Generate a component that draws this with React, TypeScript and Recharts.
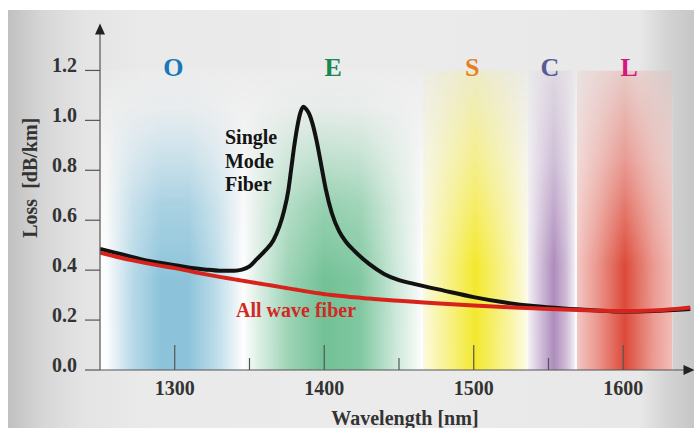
import React from 'react';
import {
  ComposedChart,
  Line,
  XAxis,
  YAxis,
  ReferenceArea,
  ReferenceLine,
  ReferenceDot,
} from 'recharts';

// Sample wavelengths (nm) shared by both attenuation curves
const wavelengths = [
  1250, 1260, 1270, 1280, 1290, 1300, 1310, 1320, 1330, 1340, 1345, 1350, 1355,
  1360, 1366, 1370, 1373, 1376, 1378, 1380, 1382, 1384, 1386, 1388, 1390, 1392,
  1395, 1398, 1401, 1405, 1410, 1415, 1420, 1430, 1440, 1450, 1460, 1480, 1500,
  1520, 1540, 1560, 1580, 1600, 1620, 1645,
];

// Standard single-mode fibre with the water (OH) absorption peak near 1385 nm
const singleModeLoss = [
  0.485, 0.47, 0.455, 0.44, 0.43, 0.42, 0.41, 0.403, 0.398, 0.398, 0.402, 0.415,
  0.445, 0.475, 0.52, 0.575, 0.635, 0.72, 0.81, 0.9, 0.975, 1.03, 1.055, 1.045,
  1.025, 0.99, 0.915, 0.82, 0.725, 0.63, 0.555, 0.51, 0.478, 0.425, 0.385, 0.36,
  0.345, 0.318, 0.292, 0.271, 0.256, 0.246, 0.239, 0.234, 0.236, 0.244,
];

// Low-water-peak ("all wave") fibre
const allWaveLoss = [
  0.47, 0.455, 0.441, 0.429, 0.418, 0.408, 0.396, 0.384, 0.373, 0.363, 0.358,
  0.353, 0.348, 0.343, 0.337, 0.333, 0.33, 0.327, 0.325, 0.323, 0.321, 0.319,
  0.317, 0.315, 0.313, 0.311, 0.308, 0.306, 0.303, 0.3, 0.297, 0.294, 0.291,
  0.286, 0.281, 0.277, 0.273, 0.265, 0.258, 0.252, 0.247, 0.242, 0.238, 0.236,
  0.238, 0.25,
];

// Transmission bands (nm)
const bandNames = ['O', 'E', 'S', 'C', 'L'];
const bandStartNm = [1254, 1346, 1466, 1536, 1569];
const bandEndNm = [1346, 1466, 1536, 1568, 1633];
const bandLabelNm = [1299, 1406, 1499, 1551, 1604];

// Axis ticks
const xMajorTicks = [1300, 1400, 1500, 1600];
const xMinorTicks = [1350, 1450, 1550];
const yTicks = [0, 0.2, 0.4, 0.6, 0.8, 1.0, 1.2];

const data = wavelengths.map((wl, i) => ({
  wl,
  smf: singleModeLoss[i],
  awf: allWaveLoss[i],
}));

const SERIF = '"Liberation Serif", "Times New Roman", Times, serif';
const AXIS = '#555555';

type BandStyle = { fill: string; label: string; stops: [number, number][]; mask: string };

const bandStyles: Record<string, BandStyle> = {
  O: {
    fill: '#86c0d8',
    label: '#1a78b8',
    mask: 'fadeSoft',
    stops: [[0, 0], [0.2, 0.6], [0.4, 0.95], [0.6, 0.95], [0.8, 0.55], [1, 0]],
  },
  E: {
    fill: '#72c196',
    label: '#168a4e',
    mask: 'fadeSoft',
    stops: [[0, 0], [0.25, 0.7], [0.45, 1], [0.65, 0.9], [0.85, 0.35], [1, 0]],
  },
  S: {
    fill: '#f3e82e',
    label: '#e67e26',
    mask: 'fadeBox',
    stops: [[0, 0.15], [0.15, 0.4], [0.5, 1], [0.85, 0.4], [1, 0.1]],
  },
  C: {
    fill: '#ad8cbb',
    label: '#5a5a98',
    mask: 'fadeBox',
    stops: [[0, 0.1], [0.3, 0.6], [0.55, 1], [0.8, 0.6], [1, 0.1]],
  },
  L: {
    fill: '#dc4a3a',
    label: '#d6187a',
    mask: 'fadeBox',
    stops: [[0, 0.3], [0.2, 0.55], [0.5, 1], [0.8, 0.55], [1, 0.35]],
  },
};

const Defs = () => (
  <svg width={0} height={0} style={{ position: 'absolute' }}>
    <defs>
      <linearGradient id="fadeSoftGrad" x1="0" y1="0" x2="0" y2="1">
        <stop offset="0" stopColor="#000" />
        <stop offset="0.12" stopColor="#111" />
        <stop offset="0.45" stopColor="#bbb" />
        <stop offset="0.7" stopColor="#fff" />
        <stop offset="1" stopColor="#fff" />
      </linearGradient>
      <linearGradient id="fadeBoxGrad" x1="0" y1="0" x2="0" y2="1">
        <stop offset="0" stopColor="#333" />
        <stop offset="0.3" stopColor="#888" />
        <stop offset="0.65" stopColor="#fff" />
        <stop offset="1" stopColor="#fff" />
      </linearGradient>
      <mask id="fadeSoft" maskContentUnits="objectBoundingBox">
        <rect x={0} y={0} width={1} height={1} fill="url(#fadeSoftGrad)" />
      </mask>
      <mask id="fadeBox" maskContentUnits="objectBoundingBox">
        <rect x={0} y={0} width={1} height={1} fill="url(#fadeBoxGrad)" />
      </mask>
      <linearGradient id="plotWhite" x1="0" y1="0" x2="0" y2="1">
        <stop offset="0" stopColor="#ffffff" stopOpacity={0.1} />
        <stop offset="0.3" stopColor="#ffffff" stopOpacity={0.6} />
        <stop offset="0.6" stopColor="#ffffff" stopOpacity={0.88} />
        <stop offset="1" stopColor="#ffffff" stopOpacity={0.97} />
      </linearGradient>
      {bandNames.map((n) => (
        <linearGradient key={n} id={`band-${n}`} x1="0" y1="0" x2="1" y2="0">
          {bandStyles[n].stops.map(([o, a], i) => (
            <stop key={i} offset={o} stopColor={bandStyles[n].fill} stopOpacity={a} />
          ))}
        </linearGradient>
      ))}
    </defs>
  </svg>
);

const YTick = (props: any) => {
  const { x, y, payload } = props;
  return (
    <text
      x={x}
      y={y - 5}
      textAnchor="end"
      dominantBaseline="central"
      fontFamily={SERIF}
      fontWeight="bold"
      fontSize={20}
      fill="#333"
    >
      {Number(payload.value).toFixed(1)}
    </text>
  );
};

const XTick = (props: any) => {
  const { x, payload } = props;
  return (
    <text
      x={x}
      y={388}
      textAnchor="middle"
      dominantBaseline="central"
      fontFamily={SERIF}
      fontWeight="bold"
      fontSize={20}
      fill="#333"
    >
      {payload.value}
    </text>
  );
};

export default function App() {
  return (
    <div style={{ position: 'absolute', left: 0, top: 0, width: 694, height: 428, background: '#ffffff', overflow: 'hidden' }}>
      <div
        style={{
          position: 'absolute',
          left: 8,
          top: 10,
          width: 686,
          height: 418,
          background:
            'linear-gradient(to right, #c0c0c0 0%, #d6d6d6 5%, #e4e4e4 11%, #eaeaea 20%, #ebebeb 60%, #e8e8e8 92%, #d4d4d4 96%, #c6c6c6 100%)',
        }}
      />
      <Defs />
      <ComposedChart
        width={694}
        height={428}
        data={data}
        margin={{ top: 25.5, right: 3.5, bottom: 0, left: 0 }}
        style={{ position: 'absolute', left: 0, top: 0 }}
      >
        <XAxis
          type="number"
          dataKey="wl"
          domain={[1250, 1645]}
          ticks={xMajorTicks}
          tickLine={false}
          axisLine={{ stroke: AXIS, strokeWidth: 1.2 }}
          tick={<XTick />}
          height={58}
          allowDataOverflow
        />
        <YAxis
          type="number"
          domain={[0, 1.38]}
          ticks={yTicks}
          width={100}
          tickSize={15}
          tickMargin={8}
          tickLine={{ stroke: AXIS, strokeWidth: 1.2 }}
          axisLine={{ stroke: AXIS, strokeWidth: 1.2 }}
          tick={<YTick />}
          allowDataOverflow
        />

        {/* whitened plot backdrop behind the bands */}
        <ReferenceArea
          x1={1250}
          x2={1633}
          y1={0}
          y2={1.2}
          ifOverflow="visible"
          shape={(p: any) => (
            <rect x={p.x} y={p.y} width={p.width} height={p.height} fill="url(#plotWhite)" />
          )}
        />

        {bandNames.map((n, i) => (
          <ReferenceArea
            key={n}
            x1={bandStartNm[i]}
            x2={bandEndNm[i]}
            y1={0}
            y2={1.2}
            ifOverflow="visible"
            shape={(p: any) => (
              <rect
                x={p.x}
                y={p.y}
                width={p.width}
                height={p.height}
                fill={`url(#band-${n})`}
                mask={`url(#${bandStyles[n].mask})`}
              />
            )}
          />
        ))}

        {xMajorTicks.map((t) => (
          <ReferenceLine
            key={`M${t}`}
            segment={[{ x: t, y: 0 }, { x: t, y: 0.1 }]}
            stroke={AXIS}
            strokeWidth={1.2}
            ifOverflow="visible"
          />
        ))}
        {xMinorTicks.map((t) => (
          <ReferenceLine
            key={`m${t}`}
            segment={[{ x: t, y: 0 }, { x: t, y: 0.048 }]}
            stroke={AXIS}
            strokeWidth={1.2}
            ifOverflow="visible"
          />
        ))}

        <Line
          type="monotone"
          dataKey="smf"
          stroke="#121212"
          strokeWidth={4}
          dot={false}
          isAnimationActive={false}
        />
        <Line
          type="monotone"
          dataKey="awf"
          stroke="#d7231c"
          strokeWidth={4}
          dot={false}
          isAnimationActive={false}
        />

        {/* axis arrowheads */}
        <ReferenceDot
          x={1250}
          y={1.38}
          ifOverflow="visible"
          shape={(p: any) => (
            <polygon
              points={`${p.cx},${p.cy - 2} ${p.cx - 5},${p.cy + 9} ${p.cx + 5},${p.cy + 9}`}
              fill="#222"
            />
          )}
        />
        <ReferenceDot
          x={1645}
          y={0}
          ifOverflow="visible"
          shape={(p: any) => (
            <polygon
              points={`${p.cx + 4},${p.cy} ${p.cx - 7},${p.cy - 5} ${p.cx - 7},${p.cy + 5}`}
              fill="#222"
            />
          )}
        />

        {/* band letters */}
        {bandNames.map((n, i) => (
          <ReferenceDot
            key={`lbl-${n}`}
            x={bandLabelNm[i]}
            y={1.21}
            ifOverflow="visible"
            shape={(p: any) => (
              <text
                x={p.cx}
                y={p.cy}
                textAnchor="middle"
                dominantBaseline="central"
                fontFamily={SERIF}
                fontWeight="bold"
                fontSize={26}
                fill={bandStyles[n].label}
              >
                {n}
              </text>
            )}
          />
        ))}

        {/* curve annotations */}
        <ReferenceDot
          x={1333.6}
          y={0.933}
          ifOverflow="visible"
          shape={(p: any) => (
            <text
              x={p.cx}
              y={p.cy}
              dominantBaseline="central"
              fontFamily={SERIF}
              fontWeight="bold"
              fontSize={20}
              fill="#141414"
            >
              <tspan x={p.cx} dy={0}>Single</tspan>
              <tspan x={p.cx} dy={23.5}>Mode</tspan>
              <tspan x={p.cx} dy={23.5}>Fiber</tspan>
            </text>
          )}
        />
        <ReferenceDot
          x={1341}
          y={0.24}
          ifOverflow="visible"
          shape={(p: any) => (
            <text
              x={p.cx}
              y={p.cy}
              dominantBaseline="central"
              fontFamily={SERIF}
              fontWeight="bold"
              fontSize={20}
              fill="#d42824"
            >
              All wave fiber
            </text>
          )}
        />

        {/* axis titles */}
        <ReferenceDot
          x={1454}
          y={-0.192}
          ifOverflow="visible"
          shape={(p: any) => (
            <text
              x={p.cx}
              y={p.cy}
              textAnchor="middle"
              dominantBaseline="central"
              fontFamily={SERIF}
              fontWeight="bold"
              fontSize={20}
              fill="#333"
            >
              Wavelength [nm]
            </text>
          )}
        />
        <ReferenceDot
          x={1203.5}
          y={0.77}
          ifOverflow="visible"
          shape={(p: any) => (
            <text
              x={p.cx}
              y={p.cy}
              textAnchor="middle"
              dominantBaseline="central"
              fontFamily={SERIF}
              fontWeight="bold"
              fontSize={20}
              fill="#333"
              transform={`rotate(-90 ${p.cx} ${p.cy})`}
            >
              {'Loss\u00a0\u00a0[dB/km]'}
            </text>
          )}
        />
      </ComposedChart>
    </div>
  );
}
